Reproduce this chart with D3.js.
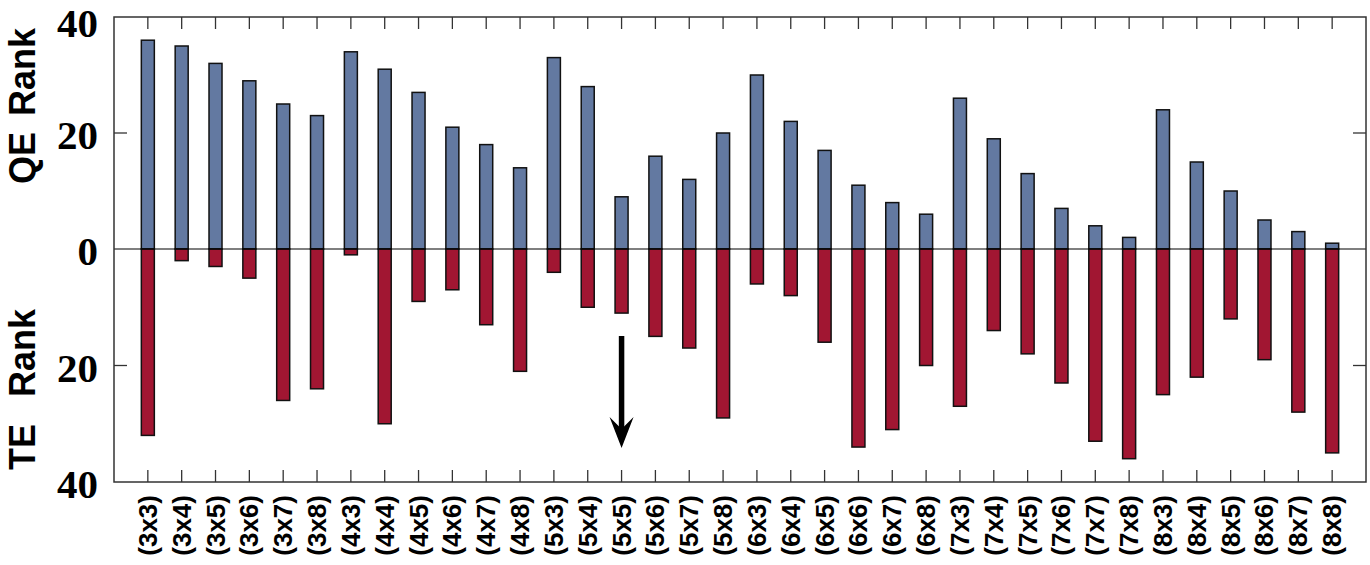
<!DOCTYPE html>
<html><head><meta charset="utf-8">
<script src="https://cdn.jsdelivr.net/npm/d3@7"></script>
<style>body{margin:0;background:#fff}svg{display:block}</style>
</head><body>
<svg id="c" width="1370" height="565"></svg>
<script>
const categories = ["(3x3)","(3x4)","(3x5)","(3x6)","(3x7)","(3x8)","(4x3)","(4x4)","(4x5)","(4x6)","(4x7)","(4x8)","(5x3)","(5x4)","(5x5)","(5x6)","(5x7)","(5x8)","(6x3)","(6x4)","(6x5)","(6x6)","(6x7)","(6x8)","(7x3)","(7x4)","(7x5)","(7x6)","(7x7)","(7x8)","(8x3)","(8x4)","(8x5)","(8x6)","(8x7)","(8x8)"];
const qeRank = [36,35,32,29,25,23,34,31,27,21,18,14,33,28,9,16,12,20,30,22,17,11,8,6,26,19,13,7,4,2,24,15,10,5,3,1];
const teRank = [32,2,3,5,26,24,1,30,9,7,13,21,4,10,11,15,17,29,6,8,16,34,31,20,27,14,18,23,33,36,25,22,12,19,28,35];
const yTicks = [0,20,40];
const arrowCategory = "(5x5)";

const L=114, R=1366, T=17, B=482, Z=249;
const svg = d3.select("#c");
const x = d3.scaleLinear().domain([-1, categories.length]).range([L, R]);
const yUp = d3.scaleLinear().domain([0,40]).range([Z, T]);
const yDn = d3.scaleLinear().domain([0,40]).range([Z, B]);
const bw = 13;
const blue = "#6379a1", red = "#a11632";

// bars
svg.append("g").selectAll("rect").data(qeRank).join("rect")
  .attr("x",(d,i)=>x(i)-bw/2).attr("width",bw)
  .attr("y",d=>yUp(d)).attr("height",d=>Z-yUp(d))
  .attr("fill",blue).attr("stroke","#111").attr("stroke-width",1.5);
svg.append("g").selectAll("rect").data(teRank).join("rect")
  .attr("x",(d,i)=>x(i)-bw/2).attr("width",bw)
  .attr("y",Z).attr("height",d=>yDn(d)-Z)
  .attr("fill",red).attr("stroke","#111").attr("stroke-width",1.5);

// zero line
svg.append("line").attr("x1",L).attr("x2",R).attr("y1",Z).attr("y2",Z).attr("stroke","#000").attr("stroke-width",1.2);

// frame
svg.append("rect").attr("x",L).attr("y",T).attr("width",R-L).attr("height",B-T)
  .attr("fill","none").attr("stroke","#333").attr("stroke-width",1.5);

// x ticks top & bottom (inward)
const tg = svg.append("g").attr("stroke","#333").attr("stroke-width",1.3);
categories.forEach((c,i)=>{
  tg.append("line").attr("x1",x(i)).attr("x2",x(i)).attr("y1",T).attr("y2",T+12);
  tg.append("line").attr("x1",x(i)).attr("x2",x(i)).attr("y1",B).attr("y2",B-12);
});
// y ticks at 20 (both halves), left & right
[yUp(20), yDn(20)].forEach(yy=>{
  tg.append("line").attr("x1",L).attr("x2",L+13).attr("y1",yy).attr("y2",yy);
  tg.append("line").attr("x1",R).attr("x2",R-13).attr("y1",yy).attr("y2",yy);
});

// y tick labels
const lab = svg.append("g").attr("font-family","'Liberation Serif','Times New Roman',serif")
  .attr("font-weight","bold").attr("font-size",41).attr("text-anchor","end").attr("fill","#000");
yTicks.forEach(t=>{
  lab.append("text").attr("x",98).attr("y",Math.max(yUp(t)+16, 37)).text(t);
  if(t>0) lab.append("text").attr("x",98).attr("y",yDn(t)+16).text(t);
});

// x labels
const xl = svg.append("g").attr("font-family","'Liberation Sans',Arial,sans-serif")
  .attr("font-weight","bold").attr("font-size",26).attr("text-anchor","end").attr("fill","#000");
categories.forEach((c,i)=>{
  xl.append("text").attr("transform",`translate(${x(i)+9},495) rotate(-90)`).text(c);
});

// y axis titles
const yt = svg.append("g").attr("font-family","'Liberation Sans',Arial,sans-serif")
  .attr("font-weight","bold").attr("font-size",36).attr("text-anchor","middle").attr("fill","#000");
[["Rank",72],["QE",158],["Rank",353],["TE",447]].forEach(([s,yy])=>{
  yt.append("text").attr("transform",`translate(35,${yy}) rotate(-90)`).text(s);
});

// arrow
const ai = categories.indexOf(arrowCategory);
const ax = x(ai);
svg.append("line").attr("x1",ax).attr("x2",ax).attr("y1",336).attr("y2",432)
  .attr("stroke","#000").attr("stroke-width",5.5);
svg.append("path").attr("d",`M${ax},448 L${ax-12},417 L${ax},429 L${ax+12},417 Z`).attr("fill","#000");
</script>
</body></html>
